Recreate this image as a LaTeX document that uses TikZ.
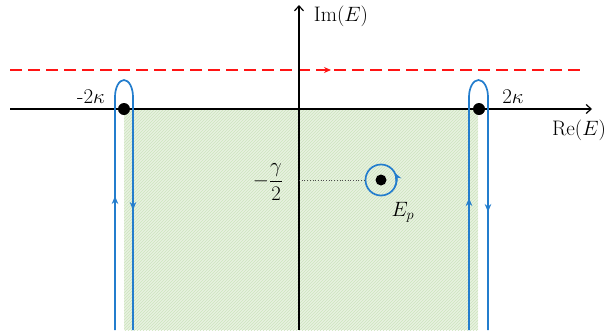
\documentclass[tikz,border=0pt]{standalone}
\usetikzlibrary{arrows.meta,patterns,decorations.markings}
\definecolor{cblue}{RGB}{35,125,205}
\definecolor{cgreen}{RGB}{232,242,224}
\definecolor{chatch}{RGB}{205,228,190}
\definecolor{cred}{RGB}{255,20,20}
\tikzset{
  axis/.style={line width=1.2pt,-{Straight Barb[length=5pt,width=9pt]}},
  loop/.style={cblue,line width=1.7pt},
  legarrow/.style={cblue,line width=1.4pt,-{Stealth[length=8pt,width=6.5pt]}},
  dotnode/.style={circle,fill=black,inner sep=0pt,minimum size=12pt},
  lab/.style={font=\fontsize{21}{23}\selectfont,inner sep=1pt},
}
\begin{document}
\begin{tikzpicture}[x=1pt,y=-1pt]
\useasboundingbox (0,0) rectangle (611,330);
% shaded region
\fill[cgreen] (124,109) rectangle (478,330);
\fill[pattern=north east lines,pattern color=chatch] (124,109) rectangle (478,330);
% red dashed line
\draw[cred,line width=1.6pt,dash pattern=on 12pt off 6pt] (10,70) -- (585,70);
\draw[cred,-{Stealth[length=7pt,width=6pt]},line width=1.6pt] (322,70) -- (331,70);
% axes
\draw[axis] (10,109) -- (592,109);
\draw[axis] (299,330) -- (299,5);
% loops
\draw[loop] (115,330) -- (115,97) arc[start angle=180,end angle=360,x radius=9,y radius=17] -- (133,330);
\draw[loop] (469,330) -- (469,97) arc[start angle=180,end angle=360,x radius=9.5,y radius=17] -- (488,330);
\draw[legarrow] (115,212) -- (115,196);
\draw[legarrow] (133,194) -- (133,210);
\draw[legarrow] (469,214) -- (469,198);
\draw[legarrow] (488,196) -- (488,212);
% dots
\node[dotnode] (lp) at (124,109) {};
\node[dotnode] (rp) at (479,109) {};
\node[dotnode,minimum size=11pt] (ep) at (381,180) {};
% circle around pole
\draw[cblue,line width=1.7pt] (ep.center) circle[radius=15.5];
\draw[legarrow] ([shift={(30:15.5)}]ep.center) arc[start angle=30,end angle=-28,radius=15.5];
% dotted guide
\coordinate (ax) at (299,180);
\draw[black!70,dotted,line width=0.7pt] (ax) -- ([xshift=-16pt]ep.center);
% labels
\node[lab] (lm) at (91,97) {-2$\kappa$};
\node[lab] (lpk) at (513,97) {2$\kappa$};
\node[lab] (re) at (579,130) {Re$(E)$};
\node[lab] (im) at (341,16) {Im$(E)$};
\node[lab] (g) at (268,182) {$-\displaystyle\frac{\gamma}{2}$};
\node[lab] (epl) at (403,212) {$E_p$};
\end{tikzpicture}
\end{document}
